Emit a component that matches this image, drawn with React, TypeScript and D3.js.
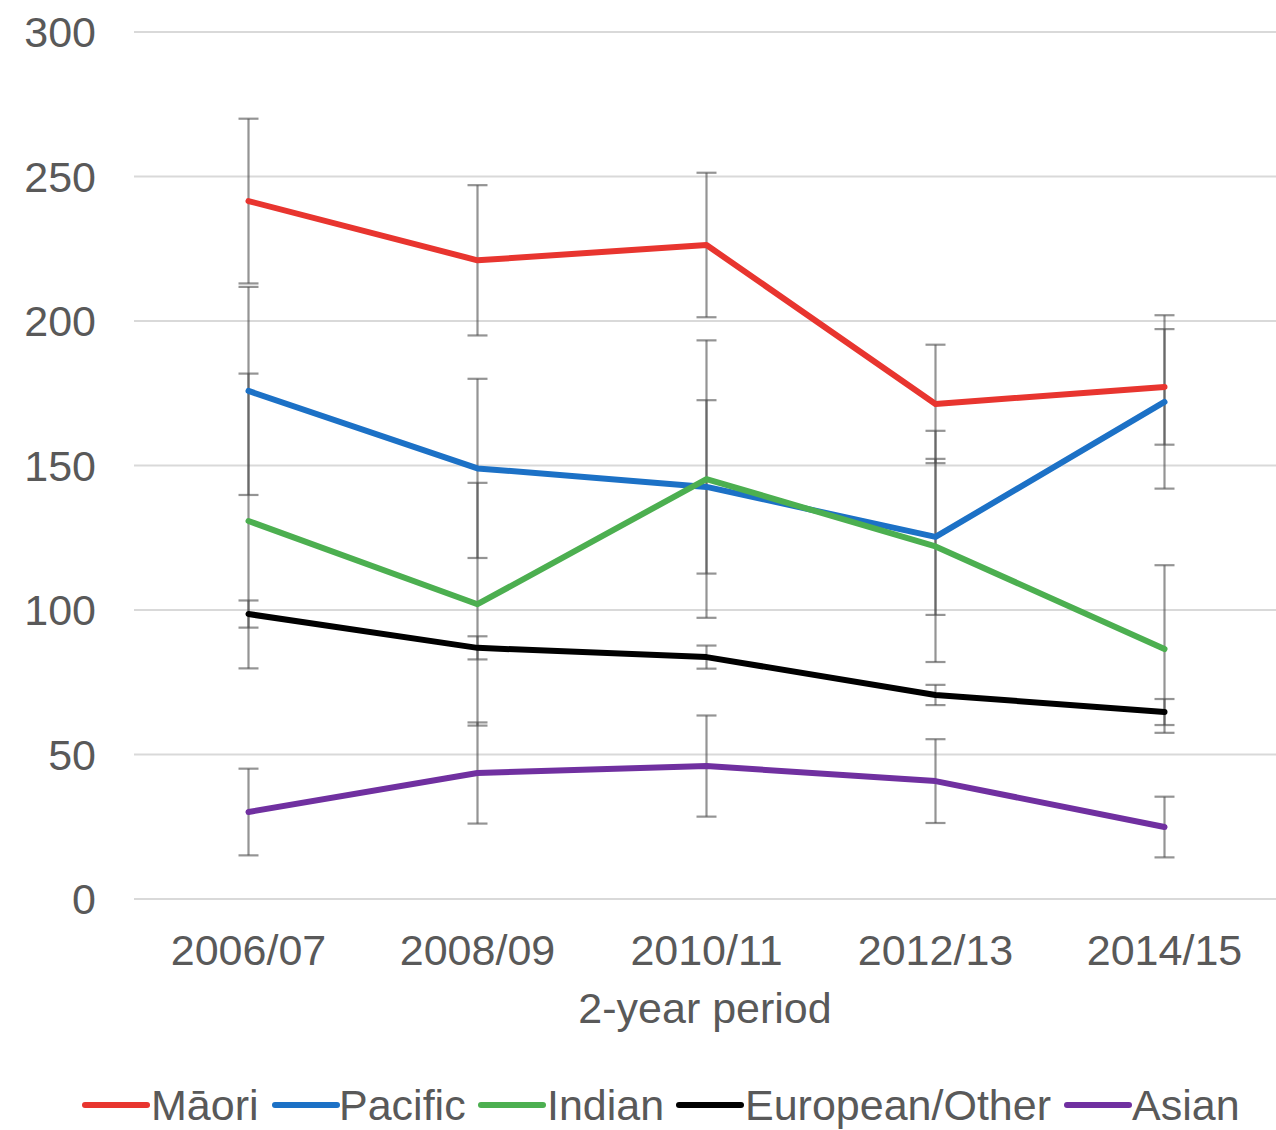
import React from "react";
import * as d3 from "d3";

const periods = ["2006/07", "2008/09", "2010/11", "2012/13", "2014/15"];
const seriesNames = ["Māori", "Pacific", "Indian", "European/Other", "Asian"];
const seriesColors = ["#e8352f", "#1c71c6", "#4caf50", "#000000", "#7030a0"];

const maoriValues = [241.5, 221, 226.3, 171.3, 177.2];
const pacificValues = [175.8, 149, 142.6, 125.3, 172];
const indianValues = [130.8, 102, 145.3, 122, 86.5];
const europeanValues = [98.6, 86.9, 83.7, 70.6, 64.7];
const asianValues = [30.1, 43.6, 46, 40.8, 24.9];

const maoriErrors = [28.5, 26, 25, 20.5, 20];
const pacificErrors = [36, 31, 30, 27, 30];
const indianErrors = [51, 42, 48, 40, 29];
const europeanErrors = [4.7, 4, 4, 3.5, 4.5];
const asianErrors = [15, 17.5, 17.5, 14.5, 10.5];

const yTicks = [0, 50, 100, 150, 200, 250, 300];

const allValues = [maoriValues, pacificValues, indianValues, europeanValues, asianValues];
const allErrors = [maoriErrors, pacificErrors, indianErrors, europeanErrors, asianErrors];

const W = 1276;
const H = 1130;
const FONT = "'Liberation Sans', Arial, sans-serif";
const TEXT = "#595959";
const FS = 43;

export default function App() {
  const x = d3.scalePoint<string>().domain(periods).range([134, 1279]).padding(0.5);
  const y = d3.scaleLinear().domain([0, 300]).range([899, 32]);
  const line = d3
    .line<number>()
    .x((_, i) => x(periods[i]) as number)
    .y((d) => y(d));

  const legendItems = [
    { x0: 85, tx: 151 },
    { x0: 275, tx: 339 },
    { x0: 481, tx: 547 },
    { x0: 679, tx: 745 },
    { x0: 1067, tx: 1132 },
  ];

  return (
    <svg
      width={W}
      height={H}
      style={{ position: "absolute", left: 0, top: 0, background: "#fff" }}
      fontFamily={FONT}
    >
      <rect x={0} y={0} width={W} height={H} fill="#ffffff" />
      {yTicks.map((t) => (
        <g key={t}>
          <line x1={134} x2={1276} y1={y(t)} y2={y(t)} stroke="#d9d9d9" strokeWidth={2} />
          <text x={96} y={y(t)} dy="0.35em" textAnchor="end" fontSize={FS} fill={TEXT}>
            {t}
          </text>
        </g>
      ))}
      {periods.map((p) => (
        <text key={p} x={x(p)} y={950} dy="0.35em" textAnchor="middle" fontSize={FS} fill={TEXT}>
          {p}
        </text>
      ))}
      <text x={705} y={1008} dy="0.35em" textAnchor="middle" fontSize={FS} fill={TEXT}>
        2-year period
      </text>

      {allValues.map((vals, si) => (
        <g key={"e" + si} stroke="#4d4d4d" strokeOpacity={0.6} strokeWidth={2.2}>
          {vals.map((v, i) => {
            const cx = x(periods[i]) as number;
            const e = allErrors[si][i];
            return (
              <g key={i}>
                <line x1={cx} x2={cx} y1={y(v + e)} y2={y(v - e)} />
                <line x1={cx - 10} x2={cx + 10} y1={y(v + e)} y2={y(v + e)} />
                <line x1={cx - 10} x2={cx + 10} y1={y(v - e)} y2={y(v - e)} />
              </g>
            );
          })}
        </g>
      ))}

      {allValues.map((vals, si) => (
        <path
          key={"l" + si}
          d={line(vals) as string}
          fill="none"
          stroke={seriesColors[si]}
          strokeWidth={6}
          strokeLinejoin="round"
          strokeLinecap="round"
        />
      ))}

      {seriesNames.map((name, i) => (
        <g key={name}>
          <line
            x1={legendItems[i].x0}
            x2={legendItems[i].x0 + 62}
            y1={1105}
            y2={1105}
            stroke={seriesColors[i]}
            strokeWidth={6}
            strokeLinecap="round"
          />
          <text x={legendItems[i].tx} y={1105} dy="0.35em" fontSize={FS} fill={TEXT}>
            {name}
          </text>
        </g>
      ))}
    </svg>
  );
}
